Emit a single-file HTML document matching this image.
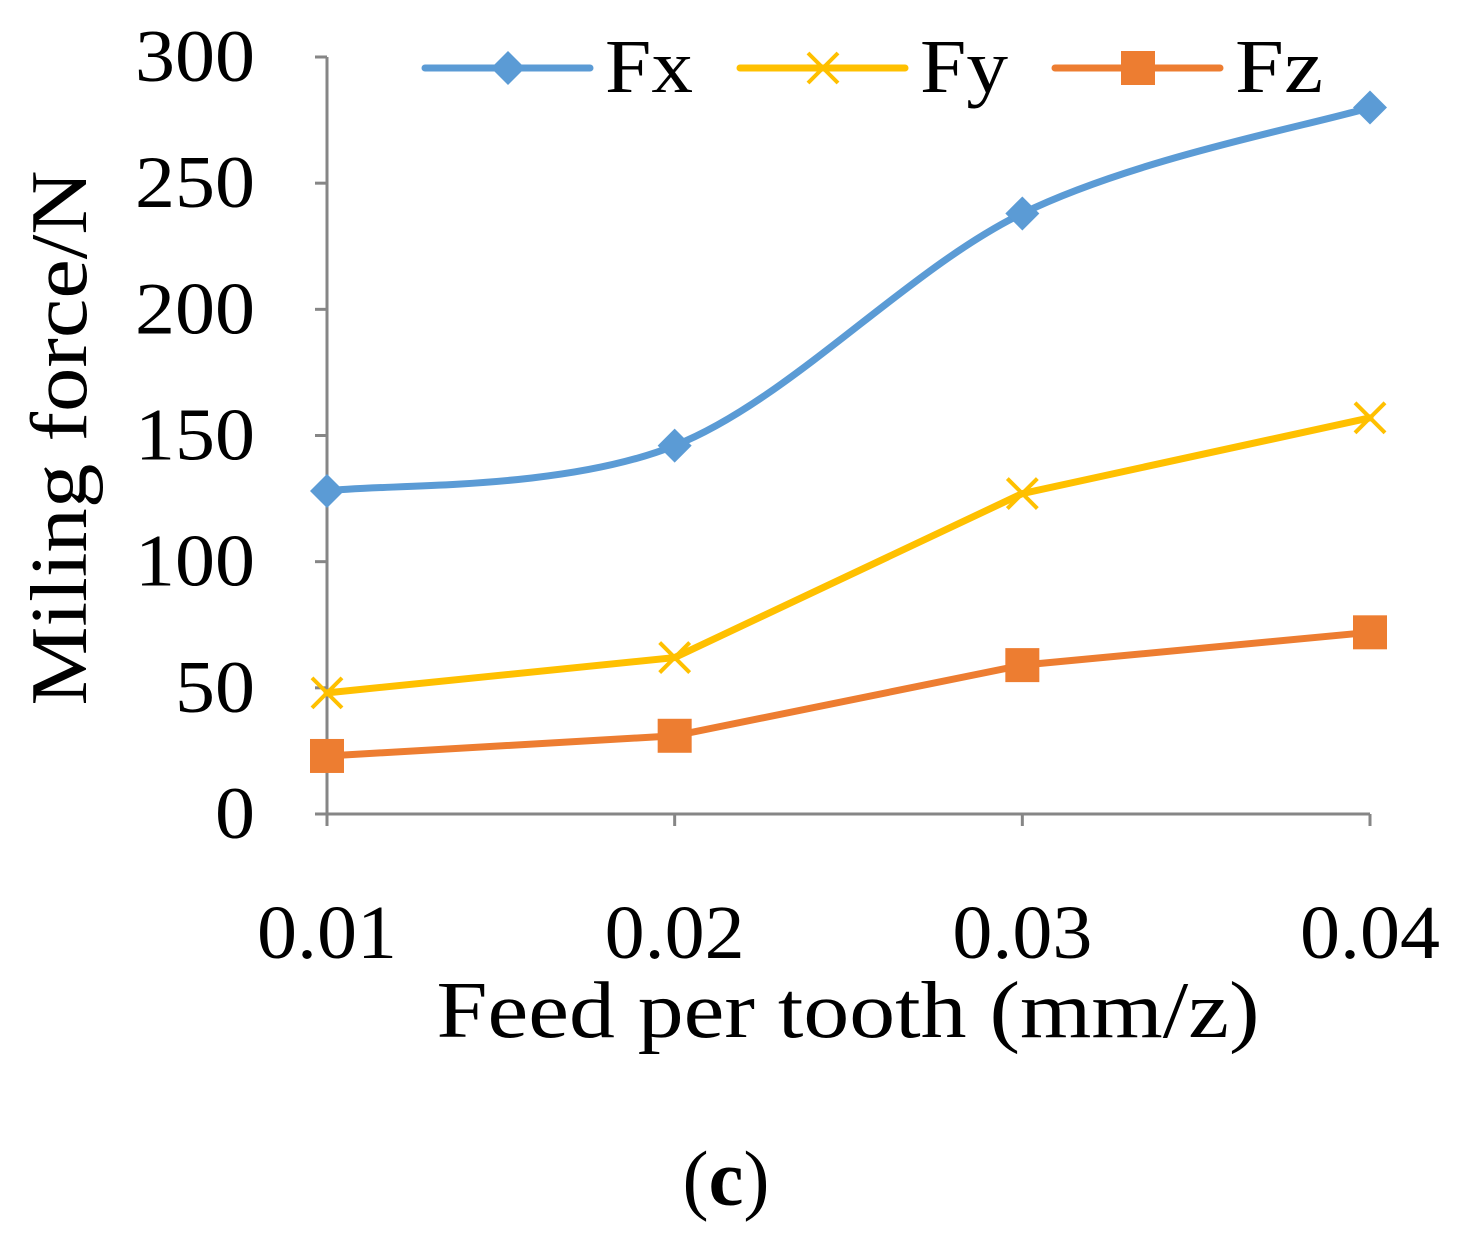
<!DOCTYPE html>
<html><head><meta charset="utf-8"><style>
html,body{margin:0;padding:0;background:#fff;}
svg{display:block;font-family:"Liberation Serif",serif;}
</style></head><body>
<svg width="1465" height="1242" viewBox="0 0 1465 1242">
<g id="axes"></g><g id="series"></g><g id="legend"></g>
<text x="848" y="1037" font-size="80" text-anchor="middle" textLength="823" lengthAdjust="spacingAndGlyphs">Feed per tooth (mm/z)</text>
<text transform="translate(86,438) rotate(-90)" font-size="80" text-anchor="middle" textLength="535" lengthAdjust="spacingAndGlyphs">Miling force/N</text>
<text x="726" y="1205" font-size="78" text-anchor="middle" textLength="87" lengthAdjust="spacingAndGlyphs">(<tspan font-weight="bold">c</tspan>)</text>
</svg>
<script>
const categories=["0.01","0.02","0.03","0.04"];
const yTicks=[0,50,100,150,200,250,300];
const fx=[128,146,238,280];
const fy=[48,62,127,157];
const fz=[23,31,59,72];
const NS="http://www.w3.org/2000/svg";
const X0=327,X1=1370,Y0=814,Y1=57,YMAX=300;
const xs=i=>X0+(X1-X0)*i/(categories.length-1);
const ys=v=>Y0-(Y0-Y1)*v/YMAX;
function mk(t,a,p){const e=document.createElementNS(NS,t);for(const k in a)e.setAttribute(k,a[k]);p.appendChild(e);return e;}
const ax=document.getElementById('axes');
let l=mk('line',{x1:X0,y1:Y1,x2:X0,y2:Y0,stroke:'#868686','stroke-width':3},ax);


l=mk('line',{x1:X0,y1:Y0,x2:X1,y2:Y0,stroke:'#868686','stroke-width':3},ax);


yTicks.forEach(v=>{
 mk('line',{x1:X0-12,y1:ys(v),x2:X0,y2:ys(v),stroke:'#868686','stroke-width':3},ax);
 const s=String(v);
 const t=mk('text',{x:255,y:ys(v)+24,'font-size':74,'text-anchor':'end',textLength:40*s.length,lengthAdjust:'spacingAndGlyphs'},ax);t.textContent=s;
 
 
});
categories.forEach((c,i)=>{
 mk('line',{x1:xs(i),y1:Y0,x2:xs(i),y2:Y0+12,stroke:'#868686','stroke-width':3},ax);
 const t=mk('text',{x:xs(i),y:958,'font-size':76,'text-anchor':'middle',textLength:140,lengthAdjust:'spacingAndGlyphs'},ax);t.textContent=c;
 
 
});
function smooth(pts){let d=`M${pts[0][0]},${pts[0][1]}`;for(let i=0;i<pts.length-1;i++){const p0=pts[Math.max(0,i-1)],p1=pts[i],p2=pts[i+1],p3=pts[Math.min(pts.length-1,i+2)];const c1=[p1[0]+(p2[0]-p0[0])/6,p1[1]+(p2[1]-p0[1])/6],c2=[p2[0]-(p3[0]-p1[0])/6,p2[1]-(p3[1]-p1[1])/6];d+=` C${c1[0]},${c1[1]} ${c2[0]},${c2[1]} ${p2[0]},${p2[1]}`;}return d;}
function marker(kind,x,y,col,p){
 if(kind==='diamond')return mk('polygon',{points:`${x},${y-17} ${x+17},${y} ${x},${y+17} ${x-17},${y}`,fill:col},p);
 if(kind==='square')return mk('rect',{x:x-17,y:y-17,width:34,height:34,fill:col},p);
 const g=mk('g',{},p);
 mk('path',{d:`M${x-15},${y-15}L${x+15},${y+15}M${x-15},${y+15}L${x+15},${y-15}`,stroke:col,'stroke-width':4},g);return g;
}
const series=[["fx",fx,'#5b9bd5','diamond',true,"Fx"],["fy",fy,'#ffc000','x',false,"Fy"],["fz",fz,'#ed7d31','square',false,"Fz"]];
const sg=document.getElementById('series');
series.forEach(([n,vals,col,kind,sm])=>{
 const pts=vals.map((v,i)=>[xs(i),ys(v)]);
 const d=sm?smooth(pts):'M'+pts.map(p=>p.join(',')).join(' L');
 const p=mk('path',{d,fill:'none',stroke:col,'stroke-width':7,'stroke-linecap':'round'},sg);
 
 
 pts.forEach(q=>{const m=marker(kind,q[0],q[1],col,sg);
  
  });
});
const lg=document.getElementById('legend');
const lx=[425,740,1055];
series.forEach(([n,vals,col,kind,sm,label],i)=>{
 const g=mk('g',{},lg);
 
 
 mk('line',{x1:lx[i],y1:68,x2:lx[i]+165,y2:68,stroke:col,'stroke-width':7,'stroke-linecap':'round'},g);
 marker(kind,lx[i]+83,68,col,g);
 const t=mk('text',{x:lx[i]+180,y:92,'font-size':76,textLength:88,lengthAdjust:'spacingAndGlyphs'},g);t.textContent=label;
});
</script>
</body></html>
